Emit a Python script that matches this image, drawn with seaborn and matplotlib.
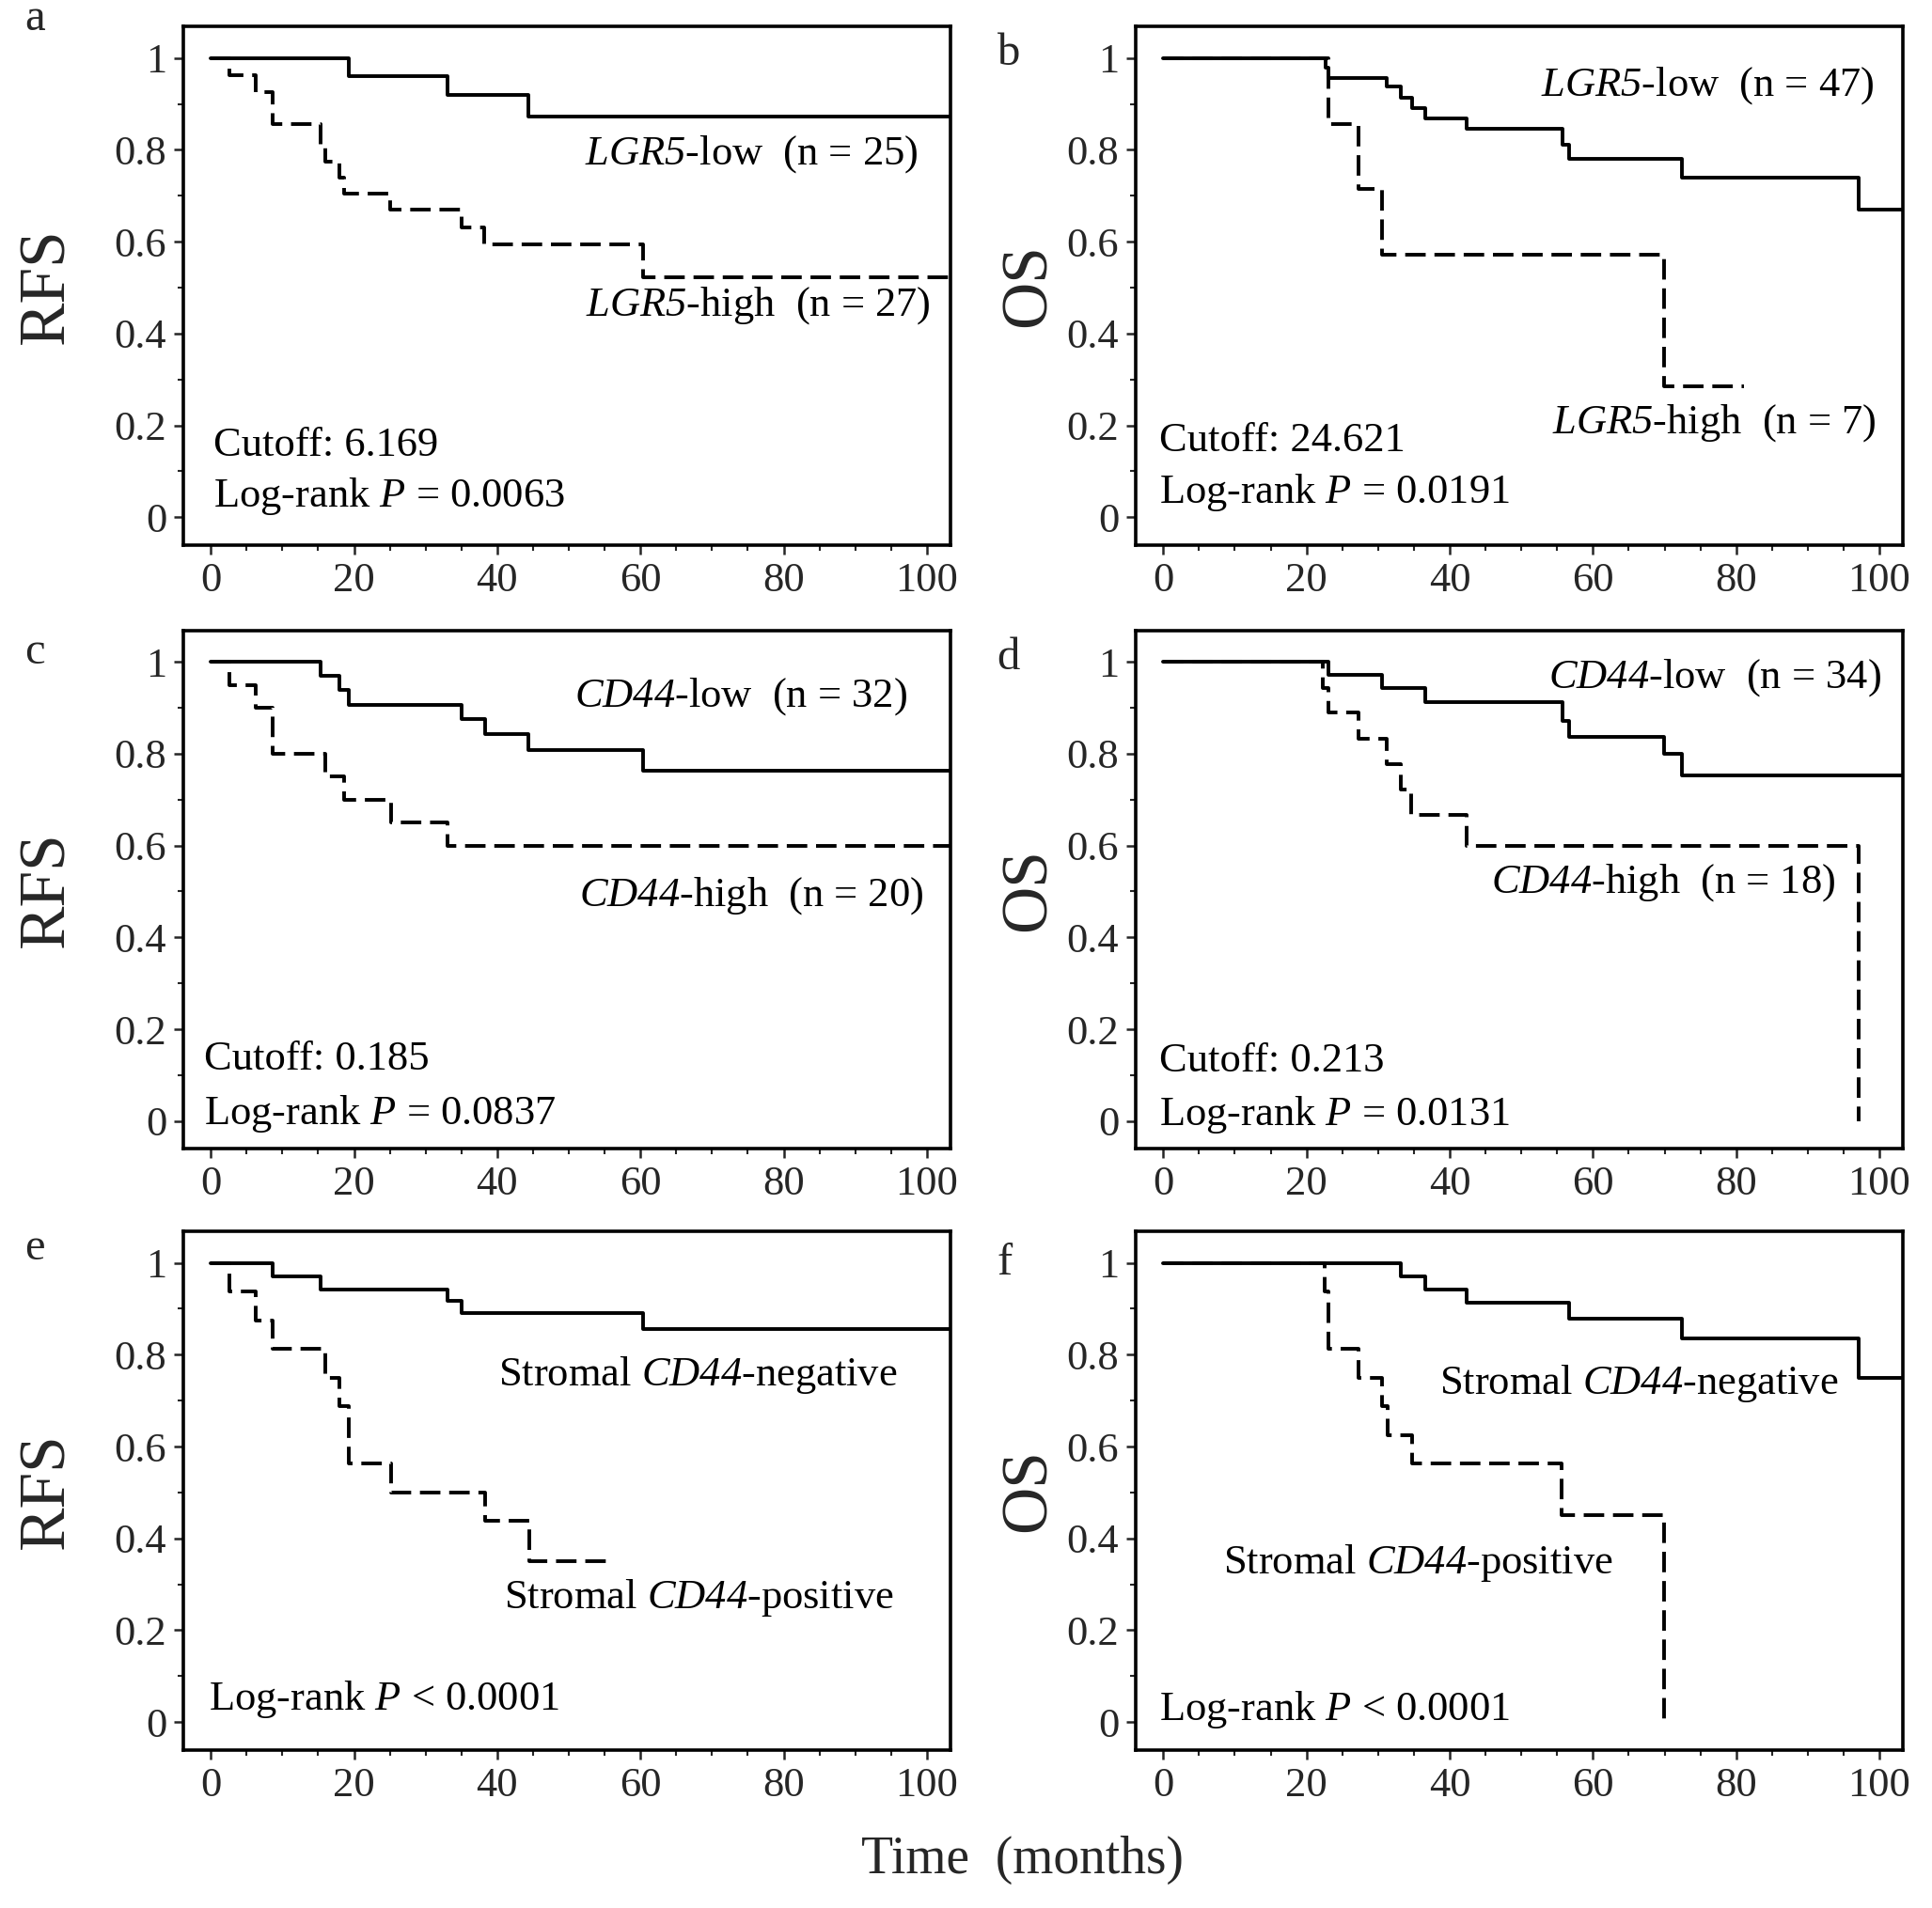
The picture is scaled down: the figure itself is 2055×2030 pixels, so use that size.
import numpy as np
import pandas as pd
import matplotlib
matplotlib.use("Agg")
import matplotlib.pyplot as plt
from matplotlib.ticker import MultipleLocator, FixedLocator
import seaborn as sns

sns.set_theme(style="ticks")
plt.rcParams["font.family"] = ["Liberation Serif", "DejaVu Serif"]
plt.rcParams["mathtext.fontset"] = "custom"
# all math text here is italic (gene names and P), digits included
plt.rcParams["mathtext.rm"] = "Liberation Serif:italic"
plt.rcParams["mathtext.it"] = "Liberation Serif:italic"

# ---------------- data ----------------
a_low_t = [0, 19.3, 33.0, 44.3, 104]
a_low_s = [1.0, 0.96, 0.92, 0.872, 0.872]
a_high_t = [0, 2.6, 6.3, 8.7, 15.4, 16.0, 18.0, 18.6, 25.0, 35.0, 38.2, 60.4, 104]
a_high_s = [1.0, 0.962, 0.926, 0.855, 0.81, 0.775, 0.74, 0.704, 0.669, 0.63, 0.595, 0.522, 0.522]

b_low_t = [0, 22.7, 23.1, 31.2, 33.2, 34.7, 36.6, 42.3, 55.7, 56.7, 72.4, 97.1, 104]
b_low_s = [1.0, 0.979, 0.957, 0.937, 0.914, 0.89, 0.868, 0.845, 0.811, 0.78, 0.739, 0.67, 0.67]
b_high_t = [0, 23.1, 27.3, 30.5, 69.9, 81.1]
b_high_s = [1.0, 0.857, 0.714, 0.571, 0.286, 0.286]

c_low_t = [0, 15.4, 18.0, 19.3, 35.0, 38.3, 44.3, 60.4, 104]
c_low_s = [1.0, 0.969, 0.938, 0.906, 0.875, 0.843, 0.808, 0.762, 0.762]
c_high_t = [0, 2.6, 6.3, 8.7, 16.0, 18.6, 25.2, 33.0, 104]
c_high_s = [1.0, 0.95, 0.90, 0.80, 0.75, 0.70, 0.65, 0.60, 0.60]

d_low_t = [0, 23.1, 30.5, 36.6, 55.7, 56.7, 69.9, 72.4, 104]
d_low_s = [1.0, 0.971, 0.942, 0.912, 0.872, 0.836, 0.80, 0.752, 0.752]
d_high_t = [0, 22.3, 23.1, 27.3, 31.2, 33.2, 34.6, 42.3, 97.1]
d_high_s = [1.0, 0.944, 0.889, 0.833, 0.778, 0.722, 0.667, 0.60, 0.0]

e_neg_t = [0, 8.7, 15.4, 33.0, 35.0, 60.4, 104]
e_neg_s = [1.0, 0.971, 0.942, 0.918, 0.89, 0.856, 0.856]
e_pos_t = [0, 2.6, 6.3, 8.7, 16.0, 18.0, 19.3, 25.2, 38.3, 44.5, 55.6]
e_pos_s = [1.0, 0.9375, 0.875, 0.8125, 0.75, 0.6875, 0.5625, 0.50, 0.4375, 0.35, 0.35]

f_neg_t = [0, 33.2, 36.6, 42.3, 56.7, 72.4, 97.1, 104]
f_neg_s = [1.0, 0.971, 0.942, 0.913, 0.879, 0.836, 0.75, 0.75]
f_pos_t = [0, 22.5, 23.1, 27.3, 30.5, 31.3, 34.7, 55.6, 69.9]
f_pos_s = [1.0, 0.9375, 0.8125, 0.75, 0.6875, 0.625, 0.5625, 0.45, 0.0]

panel_letters = ["a", "b", "c", "d", "e", "f"]
y_labels = ["RFS", "OS", "RFS", "OS", "RFS", "OS"]
x_ticks = [0, 20, 40, 60, 80, 100]
y_ticks = [0, 0.2, 0.4, 0.6, 0.8, 1.0]
y_ticklabels = ["0", "0.2", "0.4", "0.6", "0.8", "1"]

curves = [
    (a_low_t, a_low_s, a_high_t, a_high_s),
    (b_low_t, b_low_s, b_high_t, b_high_s),
    (c_low_t, c_low_s, c_high_t, c_high_s),
    (d_low_t, d_low_s, d_high_t, d_high_s),
    (e_neg_t, e_neg_s, e_pos_t, e_pos_s),
    (f_neg_t, f_neg_s, f_pos_t, f_pos_s),
]

# annotations: (text, x, y, ha)
annotations = [
    [(r"$LGR5$-low  (n = 25)", 98.8, 0.79, "right"),
     (r"$LGR5$-high  (n = 27)", 100.5, 0.46, "right"),
     ("Cutoff: 6.169", 0.4, 0.157, "left"),
     (r"Log-rank $P$ = 0.0063", 0.4, 0.045, "left")],
    [(r"$LGR5$-low  (n = 47)", 99.2, 0.94, "right"),
     (r"$LGR5$-high  (n = 7)", 99.5, 0.206, "right"),
     ("Cutoff: 24.621", -0.6, 0.167, "left"),
     (r"Log-rank $P$ = 0.0191", -0.6, 0.053, "left")],
    [(r"$CD44$-low  (n = 32)", 97.2, 0.924, "right"),
     (r"$CD44$-high  (n = 20)", 99.5, 0.49, "right"),
     ("Cutoff: 0.185", -0.9, 0.135, "left"),
     (r"Log-rank $P$ = 0.0837", -0.9, 0.016, "left")],
    [(r"$CD44$-low  (n = 34)", 100.2, 0.965, "right"),
     (r"$CD44$-high  (n = 18)", 93.8, 0.519, "right"),
     ("Cutoff: 0.213", -0.6, 0.13, "left"),
     (r"Log-rank $P$ = 0.0131", -0.6, 0.013, "left")],
    [(r"Stromal $CD44$-negative", 95.8, 0.755, "right"),
     (r"Stromal $CD44$-positive", 95.3, 0.27, "right"),
     (r"Log-rank $P$ < 0.0001", -0.3, 0.049, "left")],
    [(r"Stromal $CD44$-negative", 94.3, 0.738, "right"),
     (r"Stromal $CD44$-positive", 62.8, 0.346, "right"),
     (r"Log-rank $P$ < 0.0001", -0.6, 0.027, "left")],
]

# ---------------- layout ----------------
fig = plt.figure(figsize=(20.55, 20.30), dpi=100)
lefts = [0.095, 0.588]
bottoms = [0.7145, 0.398, 0.083]
width, height = 0.397, 0.2715
ylabel_x = [-0.138, -0.100]

TICK_FS = 32
ANN_FS = 32
LAB_FS = 50
LW = 2.8

for i in range(6):
    row, col = divmod(i, 2)
    ax = fig.add_axes([lefts[col], bottoms[row], width, height])
    t1, s1, t2, s2 = curves[i]
    df = pd.DataFrame({
        "time": list(t1) + list(t2),
        "surv": list(s1) + list(s2),
        "group": ["g1"] * len(t1) + ["g2"] * len(t2),
    })
    sns.lineplot(data=df, x="time", y="surv", style="group",
                 dashes={"g1": "", "g2": (5.6, 2.4)},
                 color="black", lw=LW, drawstyle="steps-post",
                 estimator=None, sort=False, legend=False, ax=ax)
    ax.set_xlim(-3.8, 103.3)
    ax.set_ylim(-0.06, 1.068)
    ax.xaxis.set_major_locator(FixedLocator(x_ticks))
    ax.xaxis.set_minor_locator(MultipleLocator(5))
    ax.yaxis.set_major_locator(FixedLocator(y_ticks))
    ax.yaxis.set_minor_locator(MultipleLocator(0.1))
    ax.set_xticklabels([str(v) for v in x_ticks], fontsize=TICK_FS)
    ax.set_yticklabels(y_ticklabels, fontsize=TICK_FS)
    ax.tick_params(which="major", direction="out", length=7, width=1.8, pad=6)
    ax.tick_params(which="minor", direction="out", length=4, width=1.5)
    for sp in ax.spines.values():
        sp.set_linewidth(2.6)
        sp.set_color("black")
    ax.set_xlabel("")
    ax.set_ylabel(y_labels[i], fontsize=LAB_FS)
    ax.yaxis.set_label_coords(ylabel_x[col], 0.5)
    for txt, x, y, ha in annotations[i]:
        ax.text(x, y, txt, fontsize=ANN_FS, ha=ha, va="center", color="black")

# panel letters
letter_pos = [(0.018, 0.990), (0.522, 0.972), (0.018, 0.658), (0.522, 0.655),
              (0.018, 0.346), (0.520, 0.338)]
for (x, y), lt in zip(letter_pos, panel_letters):
    fig.text(x, y, lt, fontsize=35, ha="center", va="center")

fig.text(0.529, 0.025, "Time  (months)", fontsize=40, ha="center", va="center")

fig.savefig("out.png", dpi=100, facecolor="white")
